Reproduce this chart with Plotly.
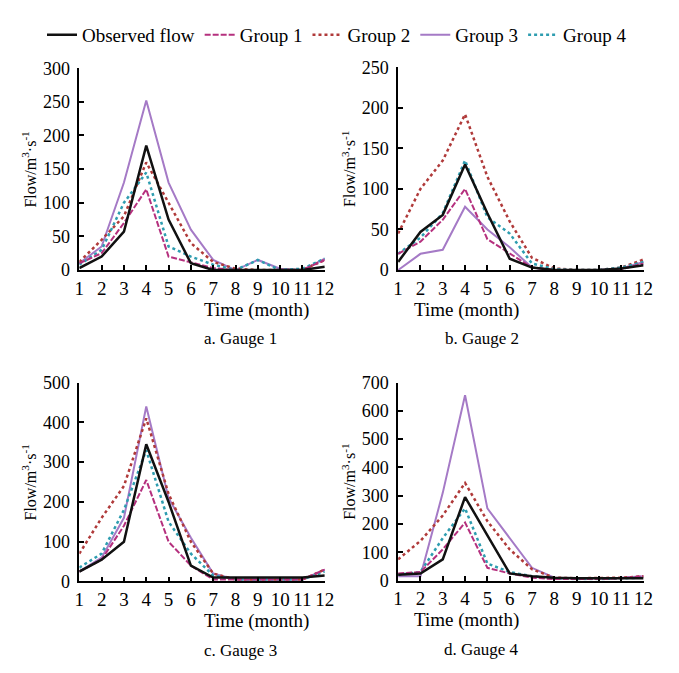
import plotly.graph_objects as go

months = list(range(1, 13))
series_names = ["Observed flow", "Group 1", "Group 2", "Group 3", "Group 4"]

# Gauge 1
g1_observed = [3, 20, 57, 185, 75, 10, 0, 0, 0, 0, 0, 5]
g1_group1 = [10, 25, 70, 120, 20, 12, 3, 0, 0, 0, 0, 15]
g1_group2 = [12, 45, 80, 160, 100, 40, 12, 2, 0, 0, 0, 15]
g1_group3 = [10, 35, 130, 252, 130, 60, 15, 0, 15, 2, 0, 17]
g1_group4 = [8, 30, 100, 145, 35, 20, 8, 0, 15, 0, 2, 17]

# Gauge 2
g2_observed = [10, 47, 68, 130, 70, 14, 3, 0, 0, 0, 2, 6]
g2_group1 = [20, 35, 62, 100, 38, 20, 3, 0, 0, 0, 1, 8]
g2_group2 = [45, 100, 135, 192, 115, 60, 15, 2, 0, 0, 3, 13]
g2_group3 = [0, 20, 25, 78, 50, 28, 3, 0, 0, 0, 2, 10]
g2_group4 = [20, 40, 70, 135, 65, 45, 8, 1, 0, 0, 3, 10]

# Gauge 3
g3_observed = [25, 55, 100, 345, 200, 40, 10, 10, 10, 10, 10, 15]
g3_group1 = [25, 55, 140, 255, 100, 40, 5, 5, 5, 5, 5, 30]
g3_group2 = [70, 160, 240, 410, 220, 100, 20, 5, 5, 5, 5, 30]
g3_group3 = [25, 60, 160, 440, 210, 110, 20, 5, 5, 5, 5, 30]
g3_group4 = [35, 70, 180, 330, 150, 70, 15, 5, 5, 5, 5, 25]

# Gauge 4
g4_observed = [20, 25, 75, 295, 160, 25, 15, 10, 8, 8, 8, 8]
g4_group1 = [25, 30, 110, 205, 45, 25, 10, 5, 5, 5, 8, 15]
g4_group2 = [75, 140, 230, 345, 210, 110, 40, 10, 8, 8, 10, 15]
g4_group3 = [15, 15, 310, 655, 255, 150, 45, 10, 8, 8, 10, 15]
g4_group4 = [20, 30, 150, 255, 60, 30, 15, 8, 5, 5, 8, 10]

y_ticks_1 = [0, 50, 100, 150, 200, 250, 300]
y_ticks_2 = [0, 50, 100, 150, 200, 250]
y_ticks_3 = [0, 100, 200, 300, 400, 500]
y_ticks_4 = [0, 100, 200, 300, 400, 500, 600, 700]

captions = ["a. Gauge 1", "b. Gauge 2", "c. Gauge 3", "d. Gauge 4"]

gauges = [
    [g1_observed, g1_group1, g1_group2, g1_group3, g1_group4],
    [g2_observed, g2_group1, g2_group2, g2_group3, g2_group4],
    [g3_observed, g3_group1, g3_group2, g3_group3, g3_group4],
    [g4_observed, g4_group1, g4_group2, g4_group3, g4_group4],
]
yticks = [y_ticks_1, y_ticks_2, y_ticks_3, y_ticks_4]

styles = [
    dict(color="#111111", width=2.5, dash="solid"),
    dict(color="#b5307e", width=2, dash="6px,2px"),
    dict(color="#b03a3a", width=2.5, dash="dot"),
    dict(color="#a57ac6", width=2, dash="solid"),
    dict(color="#2e9db0", width=2.5, dash="dot"),
]
draw_order = [3, 2, 4, 1, 0]

W, H = 679, 673
# pixel boxes: (x0, x1, ytop, ybottom)
boxes = [(76, 327, 60, 268), (402, 653, 59, 268), (76, 327, 384, 589), (402, 653, 384, 588)]

FONT = "Liberation Serif, Times New Roman, serif"
fig = go.Figure()

for p in range(4):
    suffix = "" if p == 0 else str(p + 1)
    for k in draw_order:
        fig.add_trace(go.Scatter(
            x=months, y=gauges[p][k], mode="lines", name=series_names[k],
            line=styles[k], showlegend=(p == 0), legendrank=k + 1,
            xaxis="x" + suffix, yaxis="y" + suffix,
        ))
    x0, x1, yt, yb = boxes[p]
    ymax = yticks[p][-1]
    fig.update_layout(**{
        "xaxis" + suffix: dict(
            domain=[x0 / W, x1 / W], range=[1, 12], tickvals=months,
            ticks="inside", ticklen=5, tickwidth=1.5, tickcolor="black",
            showline=True, linecolor="black", linewidth=1.5, showgrid=False,
            zeroline=False, anchor="y" + suffix,
            tickfont=dict(family=FONT, size=19, color="black"),
        ),
        "yaxis" + suffix: dict(
            domain=[1 - yb / H, 1 - yt / H], range=[0, ymax], tickvals=yticks[p],
            ticks="inside", ticklen=5, tickwidth=1.5, tickcolor="black",
            showline=True, linecolor="black", linewidth=1.5, showgrid=False,
            zeroline=False, anchor="x" + suffix, ticklabelstandoff=4,
            tickfont=dict(family=FONT, size=18, color="black"),
        ),
    })
    cx = (x0 + x1) / 2 / W
    fig.add_annotation(text="Time (month)", x=cx, y=1 - (yb + 41) / H, xref="paper", yref="paper",
                       showarrow=False, font=dict(family=FONT, size=19, color="black"), yanchor="middle")
    fig.add_annotation(text=captions[p], x=cx, y=1 - (yb + 71) / H, xref="paper", yref="paper",
                       showarrow=False, font=dict(family=FONT, size=17, color="black"), yanchor="middle")
    fig.add_annotation(text="Flow/m<sup>3</sup>·s<sup>-1</sup>", x=(x0 - 51) / W, y=1 - (yt + yb) / 2 / H,
                       xref="paper", yref="paper", showarrow=False, textangle=-90,
                       font=dict(family=FONT, size=16, color="black"), xanchor="center", yanchor="middle")

fig.update_layout(
    width=W, height=H, margin=dict(l=0, r=0, t=0, b=0),
    paper_bgcolor="white", plot_bgcolor="white",
    font=dict(family=FONT, size=18, color="black"),
    legend=dict(orientation="h", x=0.5, xanchor="center", y=1 - 6 / H, yanchor="top",
                font=dict(family=FONT, size=19, color="black"), itemwidth=30,
                traceorder="normal", bgcolor="rgba(0,0,0,0)"),
)

fig.write_html("out.html", config={"displayModeBar": False},
               post_script="document.body.style.margin='0px';")
